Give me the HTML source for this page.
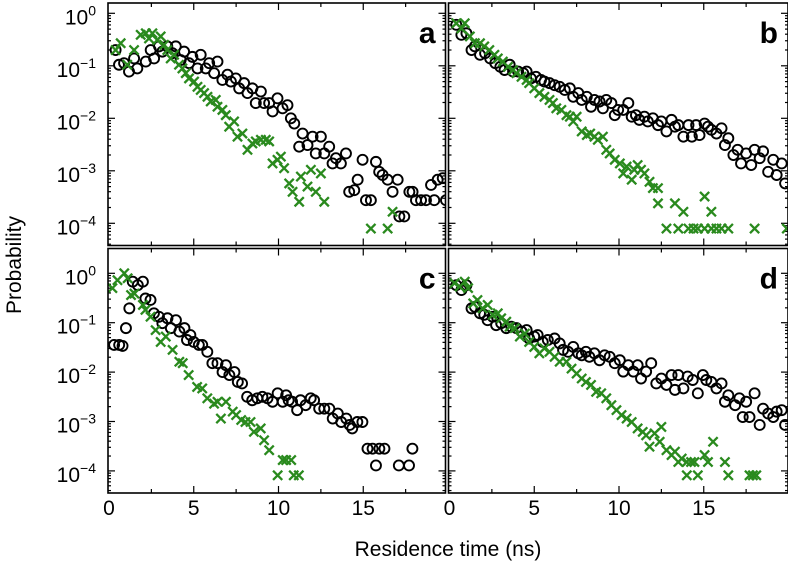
<!DOCTYPE html>
<html><head><meta charset="utf-8"><style>
html,body{margin:0;padding:0;background:#fff;}
svg{display:block;font-family:"Liberation Sans",Arial,sans-serif;}
</style></head><body>
<svg id="chart" width="788" height="568" viewBox="0 0 788 568" xmlns="http://www.w3.org/2000/svg"></svg>
<script>
// ---- data (x: residence time ns, y: log10 probability) ----
const aCircX=[0.39,0.59,0.89,1.18,1.48,1.67,2.17,2.46,2.66,2.95,3.15,3.44,3.74,3.94,4.23,4.43,4.72,4.92,5.22,5.41,5.71,5.91,6.2,6.4,6.69,6.99,7.19,7.48,7.68,7.97,8.17,8.46,8.66,8.96,9.15,9.45,9.65,9.94,10.24,10.53,10.73,10.93,11.22,11.42,11.71,12.01,12.2,12.5,12.7,12.99,13.19,13.39,13.68,13.98,14.17,14.47,14.67,14.96,15.16,15.45,15.75,15.94,16.14,16.44,16.73,17.03,17.13,17.42,17.72,17.91,18.11,18.41,18.7,19.0,19.19,19.39,19.69,19.88];
const aCircY=[-0.7,-0.98,-0.95,-1.11,-0.86,-1.05,-0.92,-0.7,-0.86,-0.63,-0.73,-0.63,-0.76,-0.63,-0.89,-0.73,-0.95,-0.83,-1.05,-0.79,-1.05,-0.95,-1.14,-0.92,-1.27,-1.17,-1.3,-1.24,-1.43,-1.33,-1.52,-1.43,-1.71,-1.49,-1.71,-1.71,-1.87,-1.62,-1.81,-1.75,-2.0,-2.1,-2.54,-2.29,-2.51,-2.35,-2.67,-2.35,-2.67,-2.54,-2.86,-2.76,-2.86,-2.67,-3.4,-3.37,-3.17,-2.79,-3.56,-3.56,-2.83,-3.02,-3.08,-3.17,-3.4,-3.17,-3.87,-3.87,-3.4,-3.4,-3.56,-3.56,-3.56,-3.27,-3.56,-3.17,-3.14,-3.56];
const aCrossX=[0.39,0.69,1.08,1.48,1.87,2.17,2.36,2.56,2.85,3.05,3.25,3.44,3.64,3.84,4.13,4.33,4.53,4.72,5.02,5.22,5.41,5.61,5.81,6.0,6.3,6.4,6.69,6.89,7.09,7.38,7.58,7.87,8.17,8.46,8.66,8.96,9.25,9.45,9.65,9.94,10.14,10.33,10.63,10.83,11.22,11.32,11.71,11.91,12.2,12.5,12.7,15.45,16.44,16.73];
const aCrossY=[-0.7,-0.57,-0.98,-0.7,-0.41,-0.38,-0.48,-0.38,-0.51,-0.44,-0.6,-0.7,-0.86,-0.79,-0.98,-1.05,-1.14,-1.24,-1.3,-1.4,-1.46,-1.52,-1.59,-1.68,-1.65,-1.78,-1.84,-1.94,-2.16,-2.06,-2.35,-2.29,-2.6,-2.48,-2.44,-2.41,-2.41,-2.44,-2.86,-2.79,-2.73,-2.95,-3.24,-3.4,-3.59,-3.11,-3.3,-2.98,-3.4,-3.05,-3.59,-4.1,-4.1,-3.78];
const bCircX=[0.4,0.7,1.0,1.3,1.5,1.8,2.1,2.4,2.7,3.0,3.25,3.55,3.75,4.05,4.35,4.55,4.8,5.1,5.4,5.6,5.9,6.2,6.5,6.8,7.1,7.3,7.6,7.8,8.1,8.35,8.55,8.85,9.05,9.25,9.55,9.75,9.95,10.25,10.55,10.75,11.0,11.2,11.5,11.7,12.0,12.3,12.5,12.8,13.1,13.3,13.5,13.8,14.1,14.3,14.55,14.75,15.05,15.25,15.45,15.75,16.05,16.25,16.45,16.75,17.0,17.2,17.5,17.8,18.0,18.3,18.5,18.8,19.1,19.3,19.6,19.8];
const bCircY=[-0.22,-0.41,-0.38,-0.7,-0.63,-0.79,-0.76,-0.86,-0.95,-1.02,-1.08,-0.98,-1.11,-1.11,-1.14,-1.11,-1.24,-1.21,-1.27,-1.3,-1.33,-1.37,-1.4,-1.46,-1.43,-1.59,-1.52,-1.65,-1.59,-1.78,-1.65,-1.68,-1.81,-1.65,-1.71,-1.94,-1.84,-1.84,-1.71,-1.97,-1.94,-2.03,-1.97,-2.06,-2.0,-2.13,-2.06,-2.25,-2.03,-2.16,-2.13,-2.35,-2.13,-2.35,-2.13,-2.32,-2.1,-2.16,-2.22,-2.29,-2.19,-2.51,-2.38,-2.7,-2.6,-2.86,-2.67,-2.89,-2.6,-2.76,-2.63,-3.02,-2.79,-3.08,-2.86,-3.24];
const bCrossX=[0.4,0.7,0.9,1.2,1.5,1.8,2.05,2.35,2.65,2.85,3.15,3.45,3.75,3.95,4.25,4.55,4.7,5.0,5.3,5.6,5.9,6.1,6.3,6.6,6.9,7.1,7.3,7.5,7.8,8.1,8.3,8.55,8.75,9.05,9.25,9.45,9.75,10.05,10.25,10.45,10.75,10.9,11.1,11.3,11.5,11.8,12.0,12.3,12.3,12.8,13.3,13.5,13.8,14.1,14.4,14.65,15.05,15.05,15.45,15.45,15.75,16.05,16.45,18.0,19.9];
const bCrossY=[-0.19,-0.29,-0.19,-0.44,-0.57,-0.57,-0.63,-0.7,-0.79,-0.86,-0.92,-1.02,-1.08,-1.14,-1.21,-1.27,-1.33,-1.43,-1.52,-1.59,-1.65,-1.71,-1.81,-1.84,-1.94,-1.97,-2.06,-1.97,-2.25,-2.32,-2.29,-2.35,-2.41,-2.35,-2.6,-2.67,-2.79,-2.86,-3.05,-2.92,-3.17,-2.98,-2.89,-2.98,-3.05,-3.21,-3.33,-3.33,-3.62,-4.1,-3.62,-4.1,-3.78,-4.1,-4.1,-4.1,-3.49,-4.1,-3.78,-4.1,-4.1,-4.1,-4.1,-4.1,-4.1];
const cCircX=[0.3,0.6,0.8,1.0,1.2,1.4,1.7,2.0,2.15,2.45,2.65,2.95,3.15,3.45,3.65,3.95,4.15,4.45,4.6,4.8,5.0,5.3,5.5,5.8,6.1,6.4,6.7,6.9,7.1,7.4,7.6,7.85,8.15,8.45,8.75,9.05,9.35,9.65,9.95,10.25,10.45,10.6,10.8,11.1,11.3,11.6,11.9,12.1,12.4,12.7,13.0,13.2,13.5,13.7,14.0,14.2,14.35,14.65,14.95,15.25,15.55,15.75,15.95,16.25,17.1,17.7,17.9];
const cCircY=[-1.45,-1.45,-1.47,-1.11,-0.71,-0.17,-0.24,-0.17,-0.51,-0.54,-0.81,-0.88,-1.01,-0.91,-1.11,-0.95,-1.18,-1.11,-1.35,-1.25,-1.39,-1.45,-1.45,-1.59,-1.82,-1.82,-2.0,-1.86,-2.06,-2.0,-2.2,-2.23,-2.5,-2.57,-2.53,-2.5,-2.53,-2.6,-2.43,-2.6,-2.47,-2.57,-2.6,-2.77,-2.57,-2.67,-2.53,-2.57,-2.74,-2.74,-2.74,-2.94,-2.84,-3.01,-2.94,-3.07,-3.14,-3.01,-3.01,-3.55,-3.55,-3.89,-3.55,-3.55,-3.89,-3.89,-3.55];
const cCrossX=[0.2,0.5,0.9,1.1,1.3,1.5,2.0,2.15,2.45,2.75,3.05,3.35,3.75,4.15,4.35,4.7,5.2,5.5,5.8,6.2,6.4,6.6,6.9,7.3,7.5,7.8,8.05,8.35,8.55,8.95,9.15,9.45,9.95,10.25,10.45,10.75,10.9,11.2];
const cCrossY=[-0.3,-0.14,0,-0.1,-0.44,-0.41,-0.64,-0.74,-0.88,-1.15,-1.39,-1.28,-1.55,-1.79,-1.82,-2.06,-2.3,-2.33,-2.53,-2.64,-2.6,-2.94,-2.6,-2.8,-2.87,-2.97,-3.01,-3.01,-3.21,-3.14,-3.38,-3.58,-4.09,-3.78,-3.78,-3.78,-4.09,-4.09];
const dCircX=[0.4,0.7,1.0,1.3,1.5,1.8,2.05,2.25,2.55,2.75,3.05,3.35,3.65,3.95,4.25,4.55,4.7,5.0,5.2,5.5,5.8,6.2,6.5,6.7,7.0,7.3,7.6,7.8,8.05,8.25,8.55,8.85,9.15,9.45,9.75,10.05,10.25,10.55,10.85,11.1,11.3,11.6,11.9,12.2,12.5,12.8,13.1,13.3,13.5,13.8,14.05,14.35,14.65,14.95,15.15,15.45,15.75,16.05,16.25,16.45,16.85,17.1,17.3,17.5,17.7,18.0,18.3,18.5,18.8,19.1,19.3,19.6,19.8];
const dCircY=[-0.24,-0.34,-0.24,-0.71,-0.68,-0.81,-0.84,-0.95,-0.88,-1.05,-1.01,-1.11,-1.08,-1.11,-1.18,-1.15,-1.32,-1.28,-1.25,-1.39,-1.35,-1.32,-1.42,-1.55,-1.59,-1.49,-1.62,-1.66,-1.59,-1.69,-1.62,-1.76,-1.66,-1.69,-1.82,-1.76,-1.99,-1.86,-1.99,-1.86,-2.13,-1.99,-1.82,-2.23,-2.13,-2.26,-2.06,-2.36,-2.06,-2.33,-2.09,-2.16,-2.43,-2.06,-2.16,-2.2,-2.33,-2.23,-2.6,-2.47,-2.67,-2.53,-2.91,-2.6,-2.91,-2.43,-3.07,-2.74,-2.84,-2.91,-2.8,-2.77,-3.07];
const dCrossX=[0.3,0.6,0.9,1.1,1.4,1.65,1.95,2.25,2.55,2.85,3.05,3.35,3.55,3.85,4.15,4.45,4.7,5.0,5.3,5.6,5.9,6.2,6.5,6.9,7.2,7.5,7.8,8.05,8.35,8.65,8.95,9.25,9.55,9.85,10.15,10.45,10.75,11.1,11.4,11.6,11.8,12.1,12.4,12.5,12.8,13.1,13.3,13.5,13.7,14.0,14.0,14.25,14.45,14.65,15.05,15.25,15.55,16.25,16.45,17.7,17.9,18.1];
const dCrossY=[-0.2,-0.27,-0.17,-0.3,-0.61,-0.54,-0.71,-0.64,-0.84,-0.81,-0.91,-0.98,-1.08,-1.11,-1.28,-1.22,-1.39,-1.49,-1.62,-1.52,-1.59,-1.69,-1.79,-1.79,-1.93,-2.03,-2.13,-2.2,-2.26,-2.4,-2.43,-2.53,-2.67,-2.77,-2.87,-2.94,-3.01,-3.14,-3.21,-3.28,-3.51,-3.24,-3.41,-3.11,-3.58,-3.68,-3.61,-3.82,-3.75,-3.82,-4.09,-3.82,-3.82,-4.09,-3.68,-3.82,-3.41,-3.82,-4.09,-4.09,-4.09,-4.09];
const yTickExp=[0,-1,-2,-3,-4];
const xTickLabels=[0,5,10,15];

const NS="http://www.w3.org/2000/svg";
const svg=document.getElementById('chart');
function mk(tag,attrs,parent){const e=document.createElementNS(NS,tag);for(const k in attrs)e.setAttribute(k,attrs[k]);(parent||svg).appendChild(e);return e;}

const panels=[
 {key:'a',L:108,R:445.5,T:3,B:245.5,y0:13.3,dec:52.5,cx:aCircX,cy:aCircY,gx:aCrossX,gy:aCrossY,left:true,bottom:false},
 {key:'b',L:448.5,R:788,T:3,B:245.5,y0:13.3,dec:52.5,cx:bCircX,cy:bCircY,gx:bCrossX,gy:bCrossY,left:false,bottom:false},
 {key:'c',L:108,R:445.5,T:248.5,B:493,y0:273.3,dec:49.4,cx:cCircX,cy:cCircY,gx:cCrossX,gy:cCrossY,left:true,bottom:true},
 {key:'d',L:448.5,R:788,T:248.5,B:493,y0:273.3,dec:49.4,cx:dCircX,cy:dCircY,gx:dCrossX,gy:dCrossY,left:false,bottom:true}
];
const PXNS=16.95;
panels.forEach(p=>{
 const g=mk('g',{});
 
 
 const xs=v=>p.L+1+v*PXNS;
 const ys=v=>p.y0-v*p.dec;
 const clipId='clip'+p.key;
 const cp=mk('clipPath',{id:clipId},g);mk('rect',{x:p.L,y:p.T,width:p.R-p.L,height:p.B-p.T},cp);
 const tg=mk('g',{stroke:'#000','stroke-width':1.2},g);
 
 
 for(let v=2.5;v<20;v+=2.5){const x=xs(v);const len=(v%5===0)?7:4;
  mk('line',{x1:x,x2:x,y1:p.T,y2:p.T+len},tg);mk('line',{x1:x,x2:x,y1:p.B,y2:p.B-len},tg);}
 yTickExp.forEach(e=>{const y=ys(e);
  mk('line',{x1:p.L,x2:p.L+7,y1:y,y2:y},tg);mk('line',{x1:p.R,x2:p.R-7,y1:y,y2:y},tg);
  for(let m=2;m<=9;m++){const ym=ys(e-1+Math.log10(m));if(ym>p.B||ym<p.T)continue;
   mk('line',{x1:p.L,x2:p.L+3,y1:ym,y2:ym},tg);mk('line',{x1:p.R,x2:p.R-3,y1:ym,y2:ym},tg);}
 });
 if(p.left){yTickExp.forEach(e=>{
  const t=mk('text',{x:96,y:ys(e)+11,'text-anchor':'end','font-size':21,fill:'#000'},g);
  
  
  const a=mk('tspan',{},t);a.textContent='10';
  const b=mk('tspan',{dy:-9,'font-size':14},t);b.textContent=(e<0?'\u2212'+(-e):String(e));
 });}
 if(p.bottom){xTickLabels.forEach(v=>{
  const t=mk('text',{x:xs(v),y:515,'text-anchor':'middle','font-size':21,fill:'#000'},g);
  
  
  t.textContent=v;});}
 const dg=mk('g',{'clip-path':'url(#'+clipId+')'},g);
 const cg=mk('g',{fill:'none',stroke:'#000','stroke-width':1.9},dg);
 
 
 p.cx.forEach((v,i)=>{const c=mk('circle',{cx:xs(v),cy:ys(p.cy[i]),r:5},cg);
  
  });
 const xg=mk('g',{stroke:'#2a8a1e','stroke-width':2.3},dg);
 
 
 p.gx.forEach((v,i)=>{const x=xs(v),y=ys(p.gy[i]),s=4.6;
  const pth=mk('path',{d:`M${x-s},${y-s}L${x+s},${y+s}M${x-s},${y+s}L${x+s},${y-s}`},xg);
  
  });
 const fr=mk('rect',{x:p.L,y:p.T,width:p.R-p.L,height:p.B-p.T,fill:'none',stroke:'#000','stroke-width':1.6},g);
 
 
 const lab=mk('text',{x:p.R-10,y:p.T+40,'text-anchor':'end','font-size':30,'font-weight':'bold',fill:'#000'},g);
 
 
 lab.textContent=p.key;
});
const xt=mk('text',{x:448,y:556,'text-anchor':'middle','font-size':21,fill:'#000'});


xt.textContent='Residence time (ns)';
const yt=mk('text',{x:0,y:0,'text-anchor':'middle','font-size':21,fill:'#000',transform:'translate(21,265) rotate(-90)'});


yt.textContent='Probability';
</script>
</body></html>
